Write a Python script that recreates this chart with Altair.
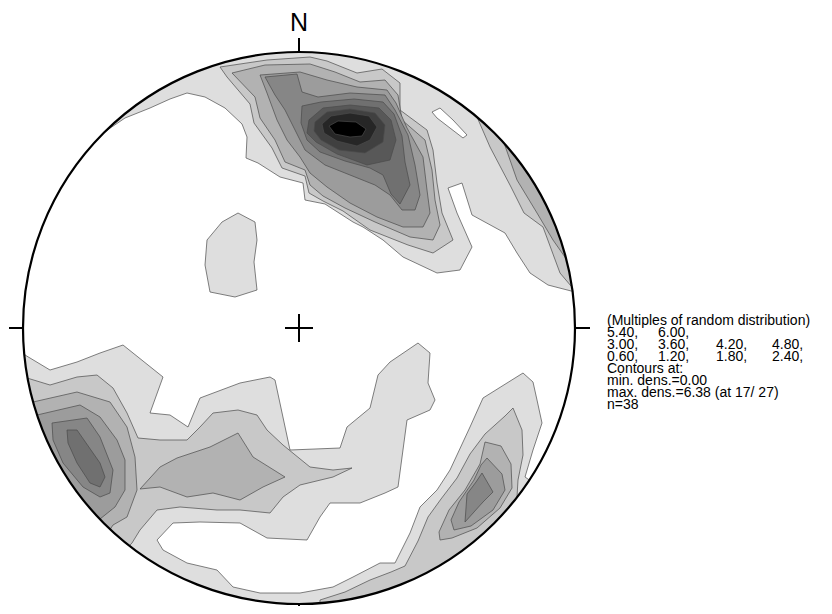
import altair as alt
import pandas as pd

# Net coordinates: origin at the centre of the equal-area net, primitive circle radius R = 276 units
R = 276

# Contour levels (multiples of random distribution) and the grey used above each level
LEVELS = [0.6, 1.2, 1.8, 2.4, 3.0, 3.6, 4.2, 4.8, 5.4, 6.0]
GREYS = ["#ffffff", "#dedede", "#c8c8c8", "#b2b2b2", "#9c9c9c", "#868686",
         "#707070", "#585858", "#404040", "#262626", "#000000"]

# ---- contour polygons (x east, y north, net units) ----
# northern girdle
T1 = [(-240, 193), (-199, 193), (-174, 210), (-149, 220), (-129, 229), (-112, 235), (-94, 231),
      (-74, 220), (-57, 204), (-52, 191), (-53, 170), (-41, 165), (-19, 151), (4, 145), (6, 128),
      (26, 124), (54, 106), (64, 101), (84, 88), (104, 71), (138, 55), (161, 58), (173, 81),
      (158, 115), (149, 140), (163, 145), (173, 113), (206, 95), (218, 75), (231, 55), (249, 43),
      (276, 36), (330, 36), (330, 330), (-240, 330)]
HOLE_T1 = [(133, 216), (141, 220), (154, 208), (168, 193), (164, 190), (151, 200), (138, 210)]
T2 = [(-79, 261), (-32, 268), (11, 271), (28, 267), (58, 255), (83, 259), (101, 245), (101, 218),
      (128, 198), (134, 178), (138, 145), (143, 115), (154, 88), (134, 75), (109, 83), (71, 98),
      (44, 117), (24, 127), (10, 135), (6, 152), (-17, 160), (-27, 180), (-45, 205), (-49, 224),
      (-72, 251)]
R2 = [(178, 211), (191, 181), (212, 141), (225, 115), (244, 101), (261, 55), (272, 42),
      (330, 42), (330, 250), (200, 250)]
R3 = [(204, 188), (218, 148), (238, 115), (254, 88), (268, 68), (330, 68), (330, 250), (220, 250)]
T3 = [(-67, 255), (-34, 263), (11, 264), (36, 256), (61, 246), (86, 248), (99, 233), (103, 208),
      (126, 188), (133, 158), (136, 128), (141, 103), (134, 88), (111, 91), (76, 106), (46, 120),
      (24, 132), (11, 143), (6, 158), (-14, 166), (-24, 188), (-39, 210), (-44, 231)]
T4 = [(-39, 253), (1, 256), (28, 248), (58, 241), (88, 238), (97, 225), (108, 200), (124, 171),
      (128, 138), (131, 115), (124, 101), (104, 101), (78, 111), (51, 125), (28, 141), (11, 155),
      (1, 171), (-12, 188), (-22, 208), (-32, 235)]
T5 = [(-34, 251), (-2, 254), (3, 236), (19, 231), (51, 235), (86, 233), (96, 218), (109, 193),
      (116, 163), (121, 133), (116, 118), (103, 118), (91, 133), (76, 143), (51, 153), (26, 163),
      (6, 178), (-4, 198), (-14, 218), (-24, 233)]
T6 = [(3, 222), (22, 226), (55, 229), (84, 226), (95, 214), (103, 192), (106, 166), (111, 143),
      (101, 124), (92, 134), (84, 153), (71, 160), (46, 167), (21, 176), (8, 188), (2, 205)]
T7 = [(10, 208), (24, 220), (51, 223), (80, 220), (92, 208), (97, 188), (91, 168), (68, 163),
      (38, 174), (17, 186), (8, 195)]
T8 = [(16, 206), (28, 216), (51, 219), (76, 215), (86, 203), (84, 186), (66, 175), (40, 178),
      (22, 188), (15, 197)]
T9 = [(23, 204), (32, 212), (51, 215), (70, 212), (78, 201), (71, 188), (58, 182), (38, 187),
      (25, 195)]
T10 = [(30, 202), (39, 207), (57, 206), (67, 199), (63, 192), (51, 191), (36, 194)]
# small island west of centre
ISLAND = [(-92, 88), (-77, 106), (-61, 115), (-44, 106), (-42, 88), (-45, 66), (-42, 38),
          (-64, 31), (-89, 36), (-94, 63)]
# southern girdle
B1 = [(-330, -25), (-275, -25), (-274, -27), (-249, -42), (-222, -34), (-199, -25), (-176, -17),
      (-136, -49), (-149, -85), (-129, -87), (-111, -99), (-99, -70), (-59, -55), (-29, -49),
      (-24, -52), (-9, -122), (41, -120), (48, -99), (71, -80), (79, -47), (91, -34), (119, -15),
      (131, -25), (129, -55), (136, -72), (131, -82), (108, -92), (99, -159), (86, -165),
      (61, -175), (31, -175), (21, -189), (8, -212), (-32, -210), (-59, -195), (-99, -194),
      (-126, -195), (-142, -212), (-136, -222), (-112, -235), (-82, -242), (-66, -259),
      (-39, -265), (1, -265), (34, -259), (54, -249), (81, -235), (96, -235), (111, -205),
      (121, -179), (138, -162), (151, -142), (171, -99), (184, -70), (224, -45), (234, -54),
      (238, -72), (243, -95), (234, -122), (226, -149), (300, -200), (300, -350), (-330, -350)]
B2 = [(-330, -50), (-272, -50), (-249, -57), (-222, -49), (-202, -47), (-186, -60), (-172, -85),
      (-161, -110), (-139, -112), (-112, -112), (-99, -99), (-86, -85), (-61, -82), (-42, -87),
      (-32, -102), (-16, -117), (11, -139), (34, -142), (53, -140), (34, -149), (1, -157),
      (-16, -169), (-29, -185), (-59, -182), (-82, -182), (-119, -179), (-142, -182),
      (-159, -202), (-167, -215), (-250, -300), (-330, -300)]
S3 = [(-159, -161), (-139, -139), (-122, -130), (-89, -119), (-61, -105), (-46, -129), (-14, -149),
      (-36, -159), (-59, -172), (-86, -165), (-112, -169), (-139, -159)]
B3 = [(-330, -74), (-266, -74), (-222, -64), (-189, -74), (-172, -99), (-164, -129), (-162, -162),
      (-172, -189), (-186, -197), (-240, -280), (-330, -280)]
B4 = [(-330, -87), (-262, -87), (-219, -77), (-199, -89), (-182, -112), (-174, -132), (-174, -162),
      (-184, -179), (-199, -191), (-240, -260), (-330, -260)]
B5 = [(-247, -95), (-212, -90), (-199, -109), (-186, -142), (-189, -165), (-199, -169), (-216, -159),
      (-236, -135), (-246, -112)]
B6 = [(-232, -102), (-222, -102), (-199, -135), (-194, -149), (-199, -159), (-209, -155),
      (-222, -135), (-231, -115)]
# south-eastern maximum
BR2 = [(214, -80), (223, -102), (224, -127), (219, -152), (218, -169), (300, -250), (20, -340),
       (21, -272), (46, -264), (71, -252), (92, -244), (106, -238), (119, -213), (129, -189),
       (142, -171), (158, -150), (171, -126), (186, -106), (206, -88)]
BR3 = [(186, -114), (202, -118), (212, -136), (213, -160), (201, -180), (178, -200), (153, -210),
       (141, -212), (140, -204), (150, -182), (166, -162), (181, -136)]
BR4 = [(188, -130), (203, -146), (206, -162), (194, -182), (172, -198), (155, -202), (152, -192),
       (160, -174), (175, -152), (182, -137)]
BR5 = [(183, -145), (194, -164), (184, -174), (166, -194), (168, -166), (177, -154)]

POLYGONS = [
    ("T1", 1, T1), ("B1", 1, B1), ("ISLAND", 1, ISLAND),
    ("HOLE_T1", 0, HOLE_T1),
    ("T2", 2, T2), ("R2", 2, R2), ("B2", 2, B2), ("BR2", 2, BR2),
    ("T3", 3, T3), ("R3", 3, R3), ("S3", 3, S3), ("B3", 3, B3), ("BR3", 3, BR3),
    ("T4", 4, T4), ("B4", 4, B4), ("BR4", 4, BR4),
    ("T5", 5, T5), ("B5", 5, B5), ("BR5", 5, BR5),
    ("T6", 6, T6), ("B6", 6, B6),
    ("T7", 7, T7), ("T8", 8, T8), ("T9", 9, T9), ("T10", 10, T10),
]
DRAW_ORDER = [1, 0, 2, 3, 4, 5, 6, 7, 8, 9, 10]

# frame: ticks at the cardinal points and the centre cross (x, y, x2, y2)
TICKS = [(0, 276, 0, 290), (-290, 0, -276, 0), (276, 0, 291, 0), (0, -276, 0, -290),
         (-14, 0, 14, 0), (0, -14, 0, 14)]

# legend text
LEGEND_ROWS = [
    ["(Multiples of random distribution)"],
    ["5.40,", "6.00,"],
    ["3.00,", "3.60,", "4.20,", "4.80,"],
    ["0.60,", "1.20,", "1.80,", "2.40,"],
    ["Contours at:"],
    ["min. dens.=0.00"],
    ["max. dens.=6.38 (at  17/ 27)"],
    ["n=38"],
]
LEGEND_X = [308, 359, 417, 473]
LEGEND_Y0, LEGEND_DY = 7, -12

# ---------------- build tables ----------------
rows = []
for name, lev, pts in POLYGONS:
    closed = list(pts) + [pts[0]]
    for i, (x, y) in enumerate(closed):
        rows.append({"poly": name, "level": lev, "i": i, "x": x, "y": y})
poly_df = pd.DataFrame(rows)

xs = alt.Scale(domain=[-291, 525], nice=False, zero=False)
ys = alt.Scale(domain=[-278, 320], nice=False, zero=False)
X = lambda f="x": alt.X(f"{f}:Q", scale=xs, axis=None)
Y = lambda f="y": alt.Y(f"{f}:Q", scale=ys, axis=None)

layers = []
for lev in DRAW_ORDER:
    sub = poly_df[poly_df.level == lev]
    if sub.empty:
        continue
    layers.append(
        alt.Chart(sub).mark_line(fill=GREYS[lev], stroke="#4a4a4a", strokeWidth=0.7,
                                 strokeJoin="round", interpolate="linear")
        .encode(x=X(), y=Y(), order=alt.Order("i:Q"), detail="poly:N")
    )

centre = pd.DataFrame({"x": [0], "y": [0]})
MASK_W = 1400
mask = alt.Chart(centre).mark_point(shape="circle", filled=False, stroke="white",
                                    strokeWidth=MASK_W, size=(2 * R + MASK_W) ** 2,
                                    opacity=1).encode(x=X(), y=Y())
outline = alt.Chart(centre).mark_point(shape="circle", filled=False, stroke="black",
                                       strokeWidth=2.2, size=(2 * R) ** 2,
                                       opacity=1).encode(x=X(), y=Y())

tick_df = pd.DataFrame(TICKS, columns=["x", "y", "x2", "y2"])
ticks = alt.Chart(tick_df).mark_rule(color="black", strokeWidth=2).encode(
    x=X(), y=Y(), x2="x2:Q", y2="y2:Q")

north = alt.Chart(pd.DataFrame({"x": [0], "y": [297], "t": ["N"]})).mark_text(
    font="Liberation Sans", fontSize=25, baseline="alphabetic", align="center", color="black"
).encode(x=X(), y=Y(), text="t:N")

leg_rows = []
for r, cells in enumerate(LEGEND_ROWS):
    for c, t in enumerate(cells):
        leg_rows.append({"x": LEGEND_X[c], "y": LEGEND_Y0 + r * LEGEND_DY, "t": t})
legend = alt.Chart(pd.DataFrame(leg_rows)).mark_text(
    font="Liberation Sans", fontSize=14, baseline="middle", align="left", color="black"
).encode(x=X(), y=Y(), text="t:N")

chart = alt.layer(*layers, mask, outline, ticks, north, legend).properties(
    width=816, height=598, autosize=alt.AutoSizeParams(type="none"), padding=0
).configure_view(stroke=None).configure(background="white")

chart.save("out.html", embed_options={"renderer": "svg", "actions": False})
